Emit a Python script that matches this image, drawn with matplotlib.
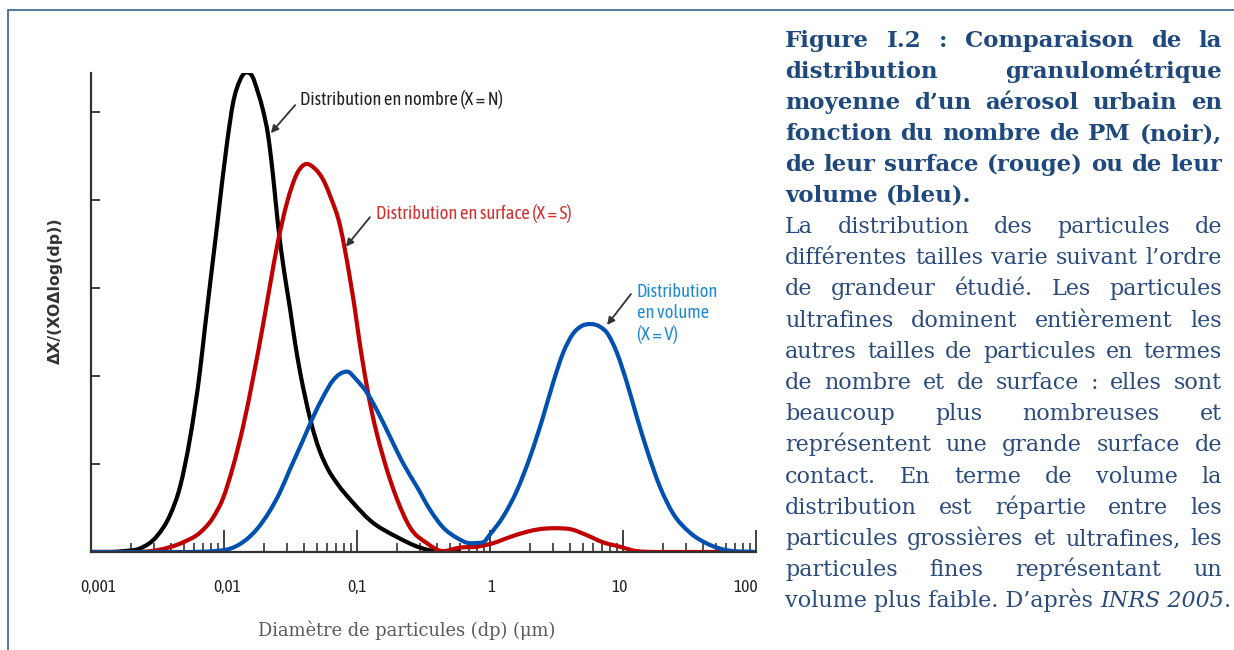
import numpy as np
import matplotlib
matplotlib.use("Agg")
import matplotlib.pyplot as plt
from matplotlib import font_manager as fm
from matplotlib.font_manager import FontProperties
from matplotlib.ticker import FixedLocator, LogLocator, NullFormatter
from matplotlib.path import Path
from matplotlib.patches import PathPatch
from matplotlib.transforms import ScaledTranslation

# ---------------- data ----------------
black_d = [0.001, 0.00139, 0.00174, 0.00233, 0.00313, 0.00393, 0.00467, 0.00555, 0.00660,
           0.00719, 0.00886, 0.01054, 0.01169, 0.01318, 0.01464, 0.01626, 0.01802, 0.01965,
           0.02143, 0.02336, 0.02547, 0.02825, 0.03133, 0.0342, 0.03727, 0.04064, 0.04433,
           0.04833, 0.05272, 0.06053, 0.07079, 0.09333, 0.1253, 0.2000, 0.2978, 0.4436, 0.6]
black_y = [0.0, 0.0, 0.01, 0.04, 0.18, 0.42, 0.74, 1.29, 2.06,
           2.55, 3.70, 4.65, 5.10, 5.36, 5.45, 5.41, 5.22, 5.02,
           4.74, 4.28, 3.72, 3.20, 2.77, 2.38, 2.05, 1.77, 1.52,
           1.31, 1.14, 0.94, 0.78, 0.56, 0.36, 0.17, 0.05, 0.0, 0.0]

red_d = [0.001, 0.00196, 0.00313, 0.00492, 0.00660, 0.00827, 0.00983, 0.01169, 0.01389,
         0.01651, 0.01965, 0.02217, 0.02502, 0.02977, 0.03539, 0.04207, 0.04667, 0.05742,
         0.06266, 0.07450, 0.08124, 0.0885, 0.0966, 0.1035, 0.1109, 0.1189, 0.1297, 0.1413,
         0.1682, 0.2000, 0.2503, 0.3357, 0.4436, 0.5943, 0.7976, 1.054, 1.414, 1.897, 2.375,
         3.082, 3.997, 5.360, 7.077, 9.48, 12.73, 18.97, 100]
red_y = [0.0, 0.0, 0.02, 0.11, 0.22, 0.39, 0.61, 0.97, 1.42,
         1.97, 2.58, 3.03, 3.47, 3.97, 4.30, 4.41, 4.375, 4.19,
         4.05, 3.71, 3.43, 3.11, 2.75, 2.43, 2.14, 1.875, 1.58, 1.34,
         0.93, 0.60, 0.28, 0.10, 0.01, 0.05, 0.06, 0.10, 0.17, 0.23, 0.26,
         0.27, 0.26, 0.19, 0.11, 0.06, 0.01, 0.0, 0.0]

blue_d = [0.001, 0.00467, 0.00983, 0.01318, 0.01770, 0.02217, 0.02636, 0.03133, 0.03926,
          0.04667, 0.05548, 0.06600, 0.08409, 0.1000, 0.1189, 0.1413, 0.1770, 0.2217,
          0.2825, 0.3539, 0.4436, 0.5648, 0.7080, 0.8857, 1.0, 1.253, 1.596, 2.000, 2.500,
          2.977, 3.539, 4.21, 4.92, 5.74, 6.71, 7.58, 9.02, 10.72, 12.73, 15.14, 18.97,
          23.75, 31.9, 45.1, 60.5, 100]
blue_y = [0.0, 0.0, 0.02, 0.09, 0.26, 0.47, 0.68, 0.94, 1.27,
          1.53, 1.76, 1.95, 2.05, 1.95, 1.81, 1.61, 1.31, 1.01,
          0.74, 0.48, 0.28, 0.16, 0.10, 0.11, 0.20, 0.40, 0.70, 1.08, 1.53,
          1.92, 2.26, 2.48, 2.57, 2.59, 2.56, 2.49, 2.26, 1.92, 1.53, 1.16, 0.74,
          0.44, 0.22, 0.08, 0.02, 0.0]

major_ticks = [0.001, 0.01, 0.1, 1, 10, 100]
major_labels = ["0,001", "0,01", "0,1", "1", "10", "100"]
y_ticks = [1, 2, 3, 4, 5]

label_N = "Distribution en nombre (X = N)"
label_S = "Distribution en surface (X = S)"
label_V = "Distribution\nen volume\n(X = V)"
xlabel = "Diamètre de particules (dp) (μm)"
ylabel = "ΔX/(XOΔlog(dp))"

title_lines = ["Figure I.2 : Comparaison de la",
               "distribution granulométrique",
               "moyenne d’un aérosol urbain en",
               "fonction du nombre de PM (noir),",
               "de leur surface (rouge) ou de leur",
               "volume (bleu)."]
body_lines = ["La distribution des particules de",
              "différentes tailles varie suivant l’ordre",
              "de grandeur étudié. Les particules",
              "ultrafines dominent entièrement les",
              "autres tailles de particules en termes",
              "de nombre et de surface : elles sont",
              "beaucoup plus nombreuses et",
              "représentent une grande surface de",
              "contact. En terme de volume la",
              "distribution est répartie entre les",
              "particules grossières et ultrafines, les",
              "particules fines représentant un"]
last_line = [("volume plus faible. D’après ", "normal"), ("INRS 2005", "italic"), (".", "normal")]

# ---------------- fonts ----------------
def find_font(preds):
    for pred in preds:
        for f in fm.fontManager.ttflist:
            try:
                if pred(f):
                    return f.fname
            except Exception:
                pass
    return None

def is_w(f, w):
    return f.weight == w or (w == 400 and f.weight == "normal") or (w == 700 and f.weight == "bold")

cond_reg = find_font([
    lambda f: f.name == "Liberation Sans Narrow" and is_w(f, 400) and f.style == "normal",
    lambda f: "Condensed" in f.name and is_w(f, 400) and f.style == "normal" and "Serif" not in f.name and "Mono" not in f.name,
    lambda f: f.stretch in ("condensed", "semi-condensed") and is_w(f, 400) and f.style == "normal" and "Serif" not in f.name and "Mono" not in f.name,
])

def cfp(size):
    if cond_reg:
        return FontProperties(fname=cond_reg, size=size)
    return FontProperties(family="DejaVu Sans", size=size)

W, H = 1234, 650
fig = plt.figure(figsize=(W / 100, H / 100), dpi=100)
fig.patch.set_facecolor("white")

ax = fig.add_axes([91 / W, 1 - 552 / H, 665 / W, 479 / H])
ax.set_xscale("log")
ax.set_xlim(0.001, 100)
ax.set_ylim(0, 5.443)


def smooth_curve(xd, yd, color, z):
    """Join the read points with a smooth cubic Hermite curve drawn as a Bezier path (log-x space)."""
    u = np.log10(np.asarray(xd, float))
    y = np.asarray(yd, float)
    h = np.diff(u)
    d = np.diff(y) / h
    n = len(y)
    m = np.zeros(n)
    m[0], m[-1] = d[0], d[-1]
    for k in range(1, n - 1):
        if d[k - 1] * d[k] <= 0:
            m[k] = 0.0
        else:
            mk = (h[k] * d[k - 1] + h[k - 1] * d[k]) / (h[k - 1] + h[k])
            lim = 3 * min(abs(d[k - 1]), abs(d[k]))
            m[k] = np.sign(mk) * min(abs(mk), lim)
    verts = [(u[0], y[0])]
    codes = [Path.MOVETO]
    for k in range(n - 1):
        verts.append((u[k] + h[k] / 3, y[k] + m[k] * h[k] / 3))
        verts.append((u[k + 1] - h[k] / 3, y[k + 1] - m[k + 1] * h[k] / 3))
        verts.append((u[k + 1], y[k + 1]))
        codes += [Path.CURVE4] * 3
    verts = np.array(verts)
    verts[:, 0] = 10 ** verts[:, 0]
    patch = PathPatch(Path(verts, codes), fill=False, ec=color, lw=3.0,
                      joinstyle="round", capstyle="butt", zorder=z)
    ax.add_patch(patch)


smooth_curve(black_d, black_y, "#000000", 3)
smooth_curve(red_d, red_y, "#c00000", 4)
smooth_curve(blue_d, blue_y, "#0050b0", 5)

for s in ["top", "right"]:
    ax.spines[s].set_visible(False)
for s in ["left", "bottom"]:
    ax.spines[s].set_color("#333333")
    ax.spines[s].set_linewidth(1.6)
    ax.spines[s].set_zorder(6)

ax.xaxis.set_major_locator(FixedLocator(major_ticks))
ax.xaxis.set_major_formatter(NullFormatter())
ax.xaxis.set_minor_locator(LogLocator(base=10, subs=np.arange(2, 10)))
ax.xaxis.set_minor_formatter(NullFormatter())
ax.tick_params(axis="x", which="major", direction="in", length=16, width=1.3, color="#333333")
ax.tick_params(axis="x", which="minor", direction="in", length=6.5, width=1.2, color="#333333")
ax.yaxis.set_major_locator(FixedLocator(y_ticks))
ax.yaxis.set_major_formatter(NullFormatter())
ax.tick_params(axis="y", which="major", direction="in", length=6.5, width=1.3, color="#333333")

# x tick labels (slightly nudged like the original)
nudges = [7, 3, 0, 1, -3, -10]
for v, lab, dx in zip(major_ticks, major_labels, nudges):
    tr = ax.get_xaxis_transform() + ScaledTranslation(dx / 100, -35 / 100, fig.dpi_scale_trans)
    ax.text(v, 0, lab, transform=tr, ha="center", va="center", fontproperties=cfp(12.5),
            color="#222222", clip_on=False)

# annotations
arrow_kw = dict(arrowstyle="-|>", color="#333333", lw=1.3, mutation_scale=11, shrinkA=0, shrinkB=0)
ax.text(0.314, 0.944, label_N, transform=ax.transAxes, ha="left", va="center",
        fontproperties=cfp(13.3), color="#222222")
ax.annotate("", xy=(0.0225, 4.76), xytext=(0.307, 0.933), textcoords="axes fraction",
            arrowprops=arrow_kw, zorder=7)
ax.text(0.4286, 0.7077, label_S, transform=ax.transAxes, ha="left", va="center",
        fontproperties=cfp(13.3), color="#d32f2f")
ax.annotate("", xy=(0.0826, 3.47), xytext=(0.4195, 0.699), textcoords="axes fraction",
            arrowprops=arrow_kw, zorder=7)
ax.text(0.821, 0.5616, label_V, transform=ax.transAxes, ha="left", va="top",
        fontproperties=cfp(13.3), color="#1f8ad2", linespacing=1.22)
ax.annotate("", xy=(7.59, 2.58), xytext=(0.812, 0.5386), textcoords="axes fraction",
            arrowprops=arrow_kw, zorder=7)

fig.text(407 / W, 1 - 630 / H, xlabel, ha="center", va="center", family="DejaVu Serif",
         size=12.9, color="#5a5a5a")
fig.text(55 / W, 1 - 291 / H, ylabel, ha="center", va="center", rotation=90,
         family="DejaVu Sans", weight="bold", size=11.3, color="#333333")

# border
fig.add_artist(plt.Rectangle((8 / W, -0.1), 1.2, 1.1 - 10 / H, transform=fig.transFigure,
                             fill=False, ec="#4a6a94", lw=1.3))

# ---------------- justified text block ----------------
renderer = fig.canvas.get_renderer()
X0, X1 = 785, 1222
TW = X1 - X0

def tw(s, fp):
    w, h, d = renderer.get_text_width_height_descent(s, fp, ismath=False)
    return w

def fit_size(lines, weight, style="normal", s0=16.0):
    fp = FontProperties(family="DejaVu Serif", size=s0, weight=weight, style=style)
    mx = max(tw(l, fp) for l in lines)
    return min(s0 * TW / mx * 0.995, 30)

title_col = "#1f497d"
body_col = "#2a4b7c"

def draw_justified(line, fp, baseline, color, justify=True):
    words = line.split(" ")
    widths = [tw(w_, fp) for w_ in words]
    if justify and len(words) > 1:
        gap = (TW - sum(widths)) / (len(words) - 1)
    else:
        gap = tw("x x", fp) - 2 * tw("x", fp)
    x = X0
    for w_, wd in zip(words, widths):
        fig.text(x / W, 1 - baseline / H, w_, fontproperties=fp, color=color, ha="left", va="baseline")
        x += wd + gap

ts = fit_size(title_lines[:-1], "bold")
tfp = FontProperties(family="DejaVu Serif", size=ts, weight="bold")
title_base = [47, 78, 109, 140, 171, 202]
for i, l in enumerate(title_lines):
    draw_justified(l, tfp, title_base[i], title_col, justify=(i < len(title_lines) - 1))

bs = fit_size(body_lines, "normal")
bfp = FontProperties(family="DejaVu Serif", size=bs)
b0, bstep = 233, 31.2
for i, l in enumerate(body_lines):
    draw_justified(l, bfp, b0 + i * bstep, body_col, justify=True)
x = X0
yb = b0 + len(body_lines) * bstep
for seg, st in last_line:
    fp = FontProperties(family="DejaVu Serif", size=bs, style=st)
    fig.text(x / W, 1 - yb / H, seg, fontproperties=fp, color=body_col, ha="left", va="baseline")
    x += tw(seg, fp)

fig.savefig("out.png", dpi=100)
